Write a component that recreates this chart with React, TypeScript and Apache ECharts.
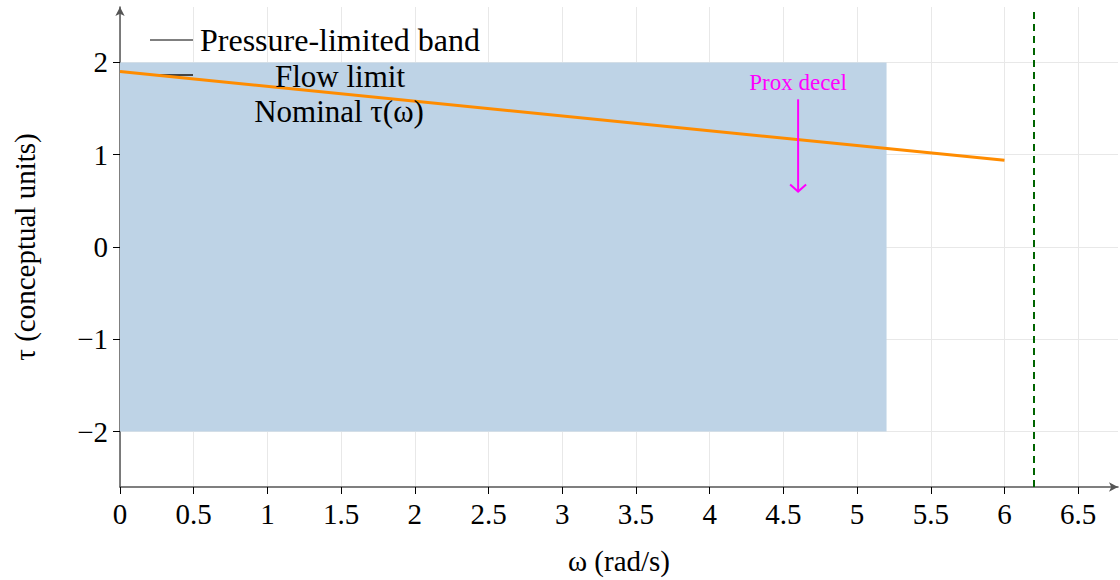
import React, { useEffect, useRef } from "react";
import * as echarts from "echarts";

// ---- data ----
const xTickValues = [0, 0.5, 1, 1.5, 2, 2.5, 3, 3.5, 4, 4.5, 5, 5.5, 6, 6.5];
const yTickValues = [-2, -1, 0, 1, 2];
const nominalOmega = [0, 6];
const nominalTau = [1.9, 0.94];
const bandOmega = [0, 5.2];
const bandTau = [-2, 2];
const flowLimitOmega = 6.2;
const annotationText = "Prox decel";
const annotationOmega = 4.6;
const annotationTauStart = 1.6;
const annotationTauEnd = 0.6;
const annotationTextTau = 1.78;
const legendLabels = ["Pressure-limited band", "Flow limit", "Nominal τ(ω)"];
const xTitle = "ω (rad/s)";
const yTitle = "τ (conceptual units)";

const FONT = "Liberation Serif";

function fmt(v: number) {
  return v < 0 ? "\u2212" + String(Math.abs(v)) : String(v);
}

export default function App() {
  const ref = useRef<HTMLDivElement>(null);
  useEffect(() => {
    if (!ref.current) return;
    const chart = echarts.init(ref.current, undefined, { renderer: "svg" });
    const option: any = {
      animation: false,
      backgroundColor: "#ffffff",
      textStyle: { fontFamily: FONT },
      grid: { left: 120, right: 2, top: 7, bottom: 93, containLabel: false, outerBoundsMode: "none" },
      xAxis: {
        type: "value",
        min: 0,
        max: 6.77,
        interval: 0.5,
        name: xTitle,
        nameLocation: "middle",
        nameGap: 59,
        nameTextStyle: { fontFamily: FONT, fontSize: 29, color: "#000" },
        axisLine: { onZero: false, symbol: ["none", "arrow"], symbolSize: [7, 9], lineStyle: { color: "#555", width: 1.5 } },
        axisTick: { show: true, length: 7, lineStyle: { color: "#000" }, customValues: xTickValues },
        axisLabel: { fontFamily: FONT, fontSize: 29, color: "#000", margin: 12, customValues: xTickValues, formatter: (v: number) => fmt(v) },
        splitLine: { show: true, lineStyle: { color: "#e8e8e8", width: 1 } },
      },
      yAxis: {
        type: "value",
        min: -2.6,
        max: 2.6,
        name: yTitle,
        nameLocation: "middle",
        nameGap: 81,
        nameTextStyle: { fontFamily: FONT, fontSize: 29, color: "#000" },
        axisLine: { onZero: false, symbol: ["none", "arrow"], symbolSize: [7, 9], lineStyle: { color: "#555", width: 1.5 } },
        axisTick: { show: true, length: 7, lineStyle: { color: "#000" }, customValues: yTickValues },
        axisLabel: { fontFamily: FONT, fontSize: 29, color: "#000", margin: 12, customValues: yTickValues, formatter: (v: number) => fmt(v) },
        splitLine: { show: true, lineStyle: { color: "#e8e8e8", width: 1 } },
      },
      series: [
        {
          type: "line",
          name: legendLabels[2],
          data: nominalOmega.map((x, i) => [x, nominalTau[i]]),
          symbol: "none",
          lineStyle: { color: "#ff8c00", width: 3 },
          z: 5,
          markArea: {
            silent: true,
            itemStyle: { color: "#bed3e6" },
            data: [[{ xAxis: bandOmega[0], yAxis: bandTau[0] }, { xAxis: bandOmega[1], yAxis: bandTau[1] }]],
          },
          markLine: {
            silent: true,
            symbol: ["none", "none"],
            label: { show: false },
            lineStyle: { color: "#006400", width: 2, type: [7, 5] },
            data: [{ xAxis: flowLimitOmega }],
          },
        },
        {
          type: "custom",
          z: 6,
          data: [[annotationOmega, annotationTauStart, annotationTauEnd, annotationTextTau]],
          renderItem: (params: any, api: any) => {
            const p0 = api.coord([api.value(0), api.value(1)]);
            const p1 = api.coord([api.value(0), api.value(2)]);
            const pt = api.coord([api.value(0), api.value(3)]);
            const col = "#ff00ff";
            return {
              type: "group",
              children: [
                { type: "line", shape: { x1: p0[0], y1: p0[1], x2: p1[0], y2: p1[1] - 1 }, style: { stroke: col, lineWidth: 2 } },
                {
                  type: "polyline",
                  shape: { points: [[p1[0] - 8, p1[1] - 7], [p1[0], p1[1]], [p1[0] + 8, p1[1] - 7]] },
                  style: { stroke: col, lineWidth: 2, fill: "none" },
                },
                {
                  type: "text",
                  x: pt[0],
                  y: pt[1],
                  style: { text: annotationText, fill: col, fontFamily: FONT, fontSize: 23, align: "center", verticalAlign: "middle" },
                },
              ],
            };
          },
        },
      ],
      graphic: [
        { type: "line", shape: { x1: 150, y1: 40, x2: 193, y2: 40 }, style: { stroke: "#000", lineWidth: 1 }, z: 10 },
        { type: "line", shape: { x1: 150, y1: 75, x2: 193, y2: 75 }, style: { stroke: "#444", lineWidth: 2 }, z: 4 },
        { type: "text", x: 200, y: 40, style: { text: legendLabels[0], fontFamily: FONT, fontSize: 32, fill: "#000", align: "left", verticalAlign: "middle" }, z: 10 },
        { type: "text", x: 340, y: 76, style: { text: legendLabels[1], fontFamily: FONT, fontSize: 31, fill: "#000", align: "center", verticalAlign: "middle" }, z: 10 },
        { type: "text", x: 339, y: 111, style: { text: legendLabels[2], fontFamily: FONT, fontSize: 31, fill: "#000", align: "center", verticalAlign: "middle" }, z: 10 },
      ],
    };
    chart.setOption(option);
    return () => chart.dispose();
  }, []);
  return <div ref={ref} style={{ position: "absolute", left: 0, top: 0, width: 1120, height: 580 }} />;
}
